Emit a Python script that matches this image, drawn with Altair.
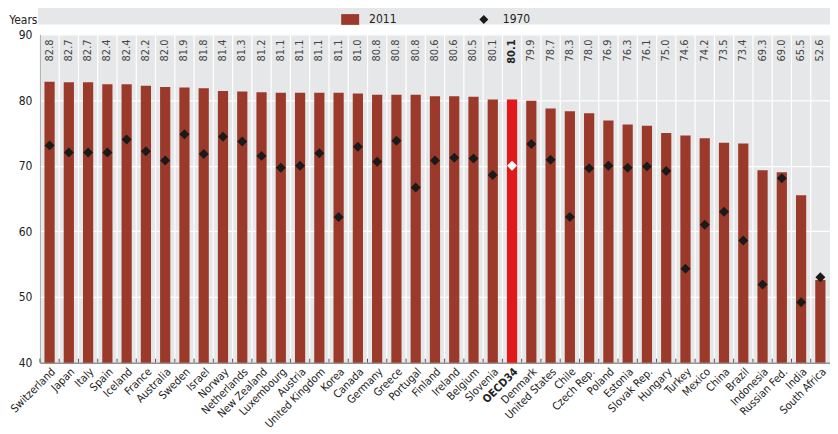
import altair as alt
import pandas as pd

countries = ["Switzerland", "Japan", "Italy", "Spain", "Iceland", "France", "Australia",
             "Sweden", "Israel", "Norway", "Netherlands", "New Zealand", "Luxembourg",
             "Austria", "United Kingdom", "Korea", "Canada", "Germany", "Greece", "Portugal",
             "Finland", "Ireland", "Belgium", "Slovenia", "OECD34", "Denmark", "United States",
             "Chile", "Czech Rep.", "Poland", "Estonia", "Slovak Rep.", "Hungary", "Turkey",
             "Mexico", "China", "Brazil", "Indonesia", "Russian Fed.", "India", "South Africa"]
v2011 = [82.8, 82.7, 82.7, 82.4, 82.4, 82.2, 82.0, 81.9, 81.8, 81.4, 81.3, 81.2, 81.1, 81.1,
         81.1, 81.1, 81.0, 80.8, 80.8, 80.8, 80.6, 80.6, 80.5, 80.1, 80.1, 79.9, 78.7, 78.3,
         78.0, 76.9, 76.3, 76.1, 75.0, 74.6, 74.2, 73.5, 73.4, 69.3, 69.0, 65.5, 52.6]
v1970 = [73.1, 72.0, 72.0, 72.0, 74.0, 72.2, 70.8, 74.8, 71.8, 74.4, 73.7, 71.5, 69.7, 70.0,
         71.9, 62.2, 72.9, 70.6, 73.8, 66.7, 70.8, 71.2, 71.1, 68.6, 70.0, 73.3, 70.9, 62.2,
         69.6, 70.0, 69.7, 69.9, 69.2, 54.3, 61.0, 63.0, 58.6, 51.9, 68.1, 49.2, 53.0]
series = ["2011", "1970"]

BAR = "#9b3a2b"
RED = "#e2191b"
BG = "#e6e7e8"
FONT = "Liberation Sans Narrow, Arial Narrow, DejaVu Sans Condensed, sans-serif"
W, H = 792, 329

df = pd.DataFrame({"country": countries, "v2011": v2011, "v1970": v1970})
df["label"] = [f"{v:.1f}" for v in v2011]
df["s2011"] = series[0]
df["s1970"] = series[1]

xenc = alt.X("country:N", sort=countries, scale=alt.Scale(paddingInner=0, paddingOuter=0),
             axis=alt.Axis(title=None, labelAngle=-45, labelAlign="right", labelBaseline="top",
                           labelPadding=3, ticks=False, domain=True, domainColor="#555",
                           labelFont=FONT, labelFontSize=11, labelColor="#222",
                           labelFontWeight={"condition": {"test": "datum.value == 'OECD34'", "value": "bold"},
                                            "value": "normal"}))
yscale = alt.Scale(domain=[40, 90], nice=False)
yaxis = alt.Axis(title="Years", titleAngle=0, titleAlign="right", titleX=-3, titleY=-15,
                 titleBaseline="middle",
                 titleFont=FONT, titleFontSize=12, titleFontWeight="normal", titleColor="#222",
                 values=[40, 50, 60, 70, 80, 90], labelFont=FONT, labelFontSize=12,
                 labelColor="#222", ticks=False, labelPadding=8, domainColor="#555",
                 gridColor="white", gridWidth=1.2)

colscale = alt.Scale(domain=series, range=[BAR, "#1a1a1a"])
shapescale = alt.Scale(domain=series, range=["M-1,-0.6H1V0.6H-1Z", "M0,-0.5L0.5,0L0,0.5L-0.5,0Z"])
leg = alt.Legend(title=None, orient="none", direction="horizontal",
                 legendX=302, legendY=-24, columnPadding=78,
                 symbolSize=324, labelFont=FONT, labelFontSize=12,
                 labelColor="#222", labelOffset=10, symbolStrokeWidth=0)

base = alt.Chart(df)
is_o = "datum.country == 'OECD34'"
not_o = "datum.country != 'OECD34'"

band = alt.Chart(pd.DataFrame({"a": [1]})).mark_rect(color=BG).encode(
    x=alt.value(-2), x2=alt.value(W), y=alt.value(-29), y2=alt.value(-10))

seps = base.mark_rule(color="white", strokeWidth=1.2).encode(
    x=alt.X("country:N", sort=countries, bandPosition=0))

ticks = base.mark_rule(color="#555", strokeWidth=1).encode(
    x=alt.X("country:N", sort=countries, bandPosition=0),
    y=alt.value(H - 4), y2=alt.value(H))

bars = base.transform_filter(not_o).mark_bar(width={"band": 0.53}).encode(
    x=xenc,
    y=alt.Y("v2011:Q", scale=yscale, axis=yaxis),
    y2=alt.datum(40),
    color=alt.Color("s2011:N", scale=colscale, legend=leg),
    shape=alt.Shape("s2011:N", scale=shapescale, legend=leg),
)
bar_o = base.transform_filter(is_o).mark_bar(width={"band": 0.53}, color=RED).encode(
    x=alt.X("country:N", sort=countries),
    y=alt.Y("v2011:Q", scale=yscale), y2=alt.datum(40))

pts = base.transform_filter(not_o).mark_point(filled=True, size=400, opacity=1).encode(
    x=alt.X("country:N", sort=countries),
    y=alt.Y("v1970:Q", scale=yscale),
    color=alt.Color("s1970:N", scale=colscale, legend=leg),
    shape=alt.Shape("s1970:N", scale=shapescale, legend=leg),
)
pt_o = base.transform_filter(is_o).mark_point(filled=True, size=400, opacity=1, color="white",
                                              shape="M0,-0.5L0.5,0L0,0.5L-0.5,0Z").encode(
    x=alt.X("country:N", sort=countries),
    y=alt.Y("v1970:Q", scale=yscale))

labels = base.transform_filter(not_o).mark_text(
    angle=270, align="right", baseline="middle", font=FONT, fontSize=11, color="#444").encode(
    x=alt.X("country:N", sort=countries), y=alt.value(5), text="label:N")

labels_b = base.transform_filter(is_o).mark_text(
    angle=270, align="right", baseline="middle", font=FONT, fontSize=11, color="#222",
    fontWeight="bold").encode(
    x=alt.X("country:N", sort=countries), y=alt.value(5), text="label:N")

chart = alt.layer(band, seps, bars, bar_o, ticks, pts, pt_o, labels, labels_b).properties(
    width=W, height=H, padding={"left": 0, "top": -3, "right": 0, "bottom": 0}
).configure_view(fill=BG, stroke=None).configure_axis(grid=False).configure_axisY(grid=True)

chart.save("out.html", embed_options={"renderer": "svg", "actions": False})
